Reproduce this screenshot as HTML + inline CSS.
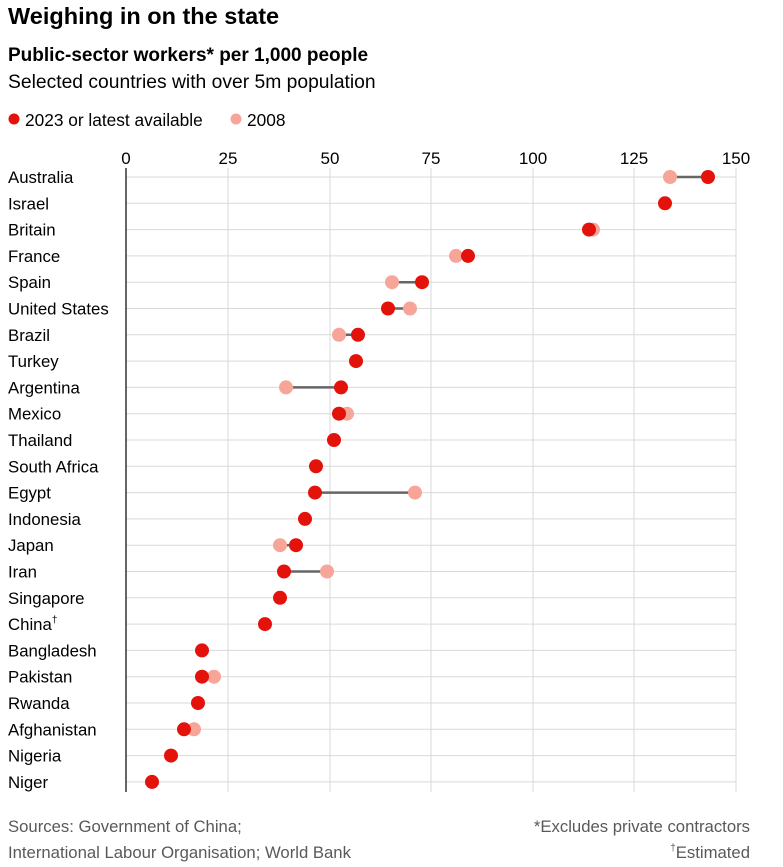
<!DOCTYPE html>
<html><head><meta charset="utf-8"><style>
body{margin:0;background:#fff;width:783px;height:862px;overflow:hidden;font-family:"Liberation Sans",sans-serif;color:#0c0c0c}
</style></head><body>
<svg width="783" height="862" xmlns="http://www.w3.org/2000/svg" font-family="Liberation Sans, sans-serif">
<text x="8" y="24" font-size="23.5" font-weight="bold">Weighing in on the state</text>
<text x="8" y="61" font-size="19" font-weight="bold">Public-sector workers* per 1,000 people</text>
<text x="8" y="88" font-size="19.3">Selected countries with over 5m population</text>
<circle cx="14" cy="119" r="5.5" fill="#E3120B"/><text x="25" y="126" font-size="17.3">2023 or latest available</text>
<circle cx="236" cy="119" r="5.5" fill="#F6A598"/><text x="247" y="126" font-size="17.3">2008</text>
<g stroke="#d9d9d9" stroke-width="1">
<line x1="228" y1="168" x2="228" y2="792"/><line x1="330" y1="168" x2="330" y2="792"/><line x1="431" y1="168" x2="431" y2="792"/><line x1="533" y1="168" x2="533" y2="792"/><line x1="634" y1="168" x2="634" y2="792"/><line x1="736" y1="168" x2="736" y2="792"/>
<line x1="126" y1="177" x2="736" y2="177"/><line x1="126" y1="203.3" x2="736" y2="203.3"/><line x1="126" y1="229.6" x2="736" y2="229.6"/><line x1="126" y1="255.9" x2="736" y2="255.9"/><line x1="126" y1="282.2" x2="736" y2="282.2"/><line x1="126" y1="308.5" x2="736" y2="308.5"/><line x1="126" y1="334.8" x2="736" y2="334.8"/><line x1="126" y1="361.1" x2="736" y2="361.1"/><line x1="126" y1="387.4" x2="736" y2="387.4"/><line x1="126" y1="413.7" x2="736" y2="413.7"/><line x1="126" y1="440" x2="736" y2="440"/><line x1="126" y1="466.3" x2="736" y2="466.3"/><line x1="126" y1="492.6" x2="736" y2="492.6"/><line x1="126" y1="518.9" x2="736" y2="518.9"/><line x1="126" y1="545.2" x2="736" y2="545.2"/><line x1="126" y1="571.5" x2="736" y2="571.5"/><line x1="126" y1="597.8" x2="736" y2="597.8"/><line x1="126" y1="624.1" x2="736" y2="624.1"/><line x1="126" y1="650.4" x2="736" y2="650.4"/><line x1="126" y1="676.7" x2="736" y2="676.7"/><line x1="126" y1="703" x2="736" y2="703"/><line x1="126" y1="729.3" x2="736" y2="729.3"/><line x1="126" y1="755.6" x2="736" y2="755.6"/><line x1="126" y1="781.9" x2="736" y2="781.9"/>
</g>
<line x1="126" y1="168" x2="126" y2="792" stroke="#333" stroke-width="1.5"/>
<g font-size="17" text-anchor="middle">
<text x="126" y="164">0</text><text x="228" y="164">25</text><text x="330" y="164">50</text><text x="431" y="164">75</text><text x="533" y="164">100</text><text x="634" y="164">125</text><text x="736" y="164">150</text>
</g>
<g font-size="16.8">
<text x="8" y="183">Australia</text><text x="8" y="209.3">Israel</text><text x="8" y="235.6">Britain</text><text x="8" y="261.9">France</text><text x="8" y="288.2">Spain</text><text x="8" y="314.5">United States</text><text x="8" y="340.8">Brazil</text><text x="8" y="367.1">Turkey</text><text x="8" y="393.4">Argentina</text><text x="8" y="419.7">Mexico</text><text x="8" y="446">Thailand</text><text x="8" y="472.3">South Africa</text><text x="8" y="498.6">Egypt</text><text x="8" y="524.9">Indonesia</text><text x="8" y="551.2">Japan</text><text x="8" y="577.5">Iran</text><text x="8" y="603.8">Singapore</text><text x="8" y="630.1">China<tspan font-size="10" dy="-7">†</tspan></text><text x="8" y="656.4">Bangladesh</text><text x="8" y="682.7">Pakistan</text><text x="8" y="709">Rwanda</text><text x="8" y="735.3">Afghanistan</text><text x="8" y="761.6">Nigeria</text><text x="8" y="787.9">Niger</text>
</g>
<g stroke="#666" stroke-width="2.5">
<line x1="670" y1="177" x2="708" y2="177"/><line x1="456" y1="255.9" x2="468" y2="255.9"/><line x1="392" y1="282.2" x2="422" y2="282.2"/><line x1="388" y1="308.5" x2="410" y2="308.5"/><line x1="339" y1="334.8" x2="358" y2="334.8"/><line x1="286" y1="387.4" x2="341" y2="387.4"/><line x1="315" y1="492.6" x2="415" y2="492.6"/><line x1="280" y1="545.2" x2="296" y2="545.2"/><line x1="284" y1="571.5" x2="327" y2="571.5"/><line x1="202" y1="676.7" x2="214" y2="676.7"/>
</g>
<g fill="#F6A598">
<circle cx="670" cy="177" r="7"/><circle cx="593" cy="229.6" r="7"/><circle cx="456" cy="255.9" r="7"/><circle cx="392" cy="282.2" r="7"/><circle cx="410" cy="308.5" r="7"/><circle cx="339" cy="334.8" r="7"/><circle cx="286" cy="387.4" r="7"/><circle cx="347" cy="413.7" r="7"/><circle cx="415" cy="492.6" r="7"/><circle cx="280" cy="545.2" r="7"/><circle cx="327" cy="571.5" r="7"/><circle cx="214" cy="676.7" r="7"/><circle cx="194" cy="729.3" r="7"/>
</g>
<g fill="#E3120B">
<circle cx="708" cy="177" r="7"/><circle cx="665" cy="203.3" r="7"/><circle cx="589" cy="229.6" r="7"/><circle cx="468" cy="255.9" r="7"/><circle cx="422" cy="282.2" r="7"/><circle cx="388" cy="308.5" r="7"/><circle cx="358" cy="334.8" r="7"/><circle cx="356" cy="361.1" r="7"/><circle cx="341" cy="387.4" r="7"/><circle cx="339" cy="413.7" r="7"/><circle cx="334" cy="440" r="7"/><circle cx="316" cy="466.3" r="7"/><circle cx="315" cy="492.6" r="7"/><circle cx="305" cy="518.9" r="7"/><circle cx="296" cy="545.2" r="7"/><circle cx="284" cy="571.5" r="7"/><circle cx="280" cy="597.8" r="7"/><circle cx="265" cy="624.1" r="7"/><circle cx="202" cy="650.4" r="7"/><circle cx="202" cy="676.7" r="7"/><circle cx="198" cy="703" r="7"/><circle cx="184" cy="729.3" r="7"/><circle cx="171" cy="755.6" r="7"/><circle cx="152" cy="781.9" r="7"/>
</g>
<g font-size="16.7" fill="#595959">
<text x="8" y="832">Sources: Government of China;</text>
<text x="8" y="858">International Labour Organisation; World Bank</text>
<text x="750" y="832" text-anchor="end">*Excludes private contractors</text>
<text x="750" y="858" text-anchor="end"><tspan font-size="10" dy="-7">†</tspan><tspan dy="7">Estimated</tspan></text>
</g>
</svg>
</body></html>
